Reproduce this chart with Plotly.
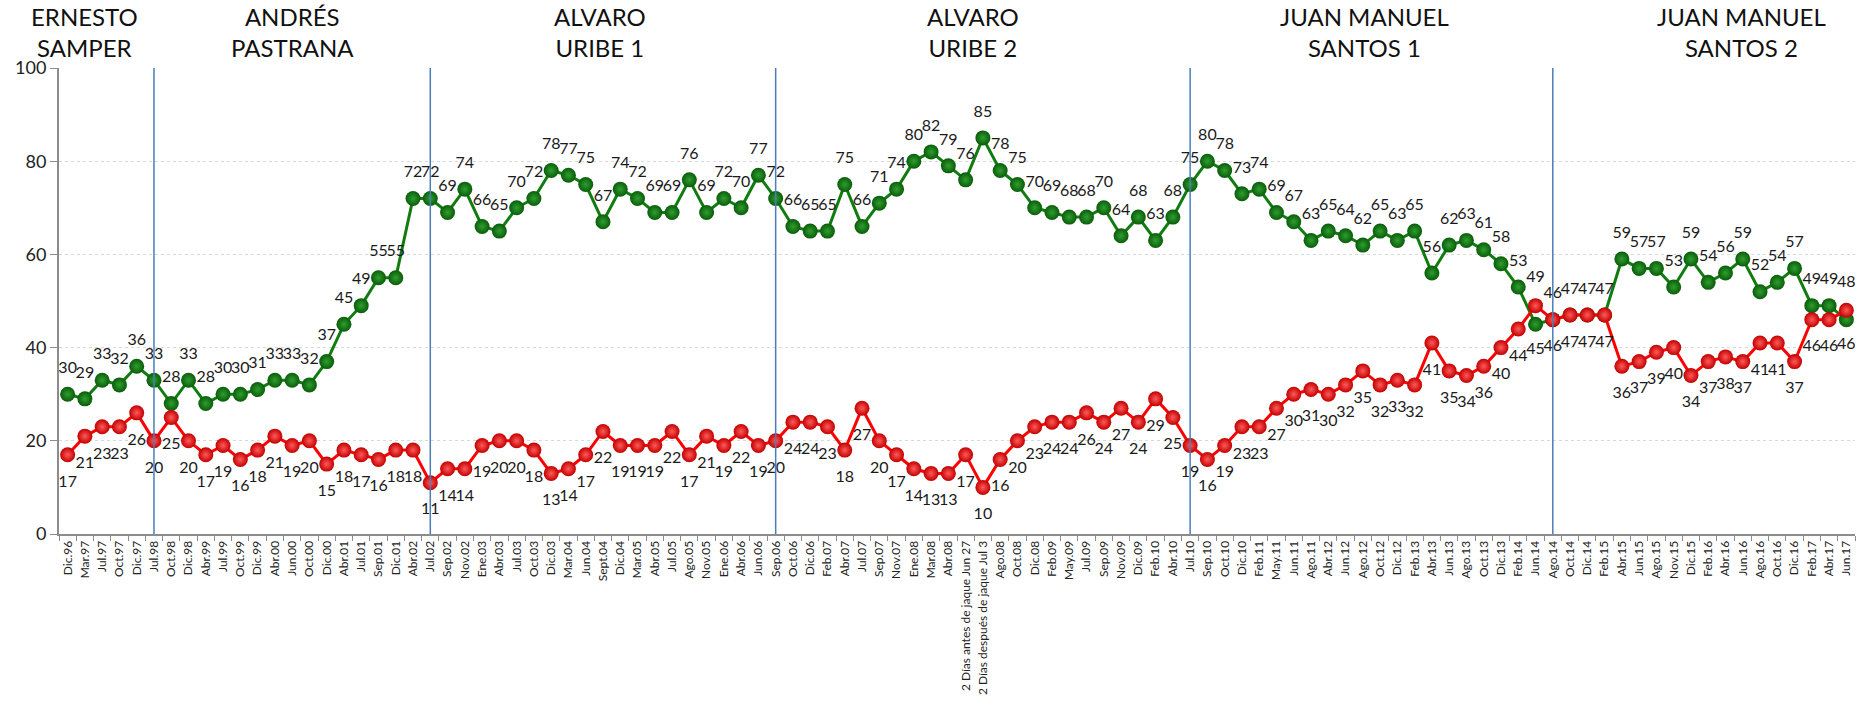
import plotly.graph_objects as go

# Encuestas de imagen presidencial, Colombia 1996-2017
periodos = [
    "Dic.96", "Mar.97", "Jul.97", "Oct.97", "Dic.97", "Jul.98", "Oct.98", "Dic.98",
    "Abr.99", "Jul.99", "Oct.99", "Dic.99", "Abr.00", "Jun.00", "Oct.00", "Dic.00",
    "Abr.01", "Jul.01", "Sep.01", "Dic.01", "Abr.02", "Jul.02", "Sep.02", "Nov.02",
    "Ene.03", "Abr.03", "Jul.03", "Oct.03", "Dic.03", "Mar.04", "Jun.04", "Sept.04",
    "Dic.04", "Mar.05", "Abr.05", "Jul.05", "Ago.05", "Nov.05", "Ene.06", "Abr.06",
    "Jun.06", "Sep.06", "Oct.06", "Dic.06", "Feb.07", "Abr.07", "Jul.07", "Sep.07",
    "Nov.07", "Ene.08", "Mar.08", "Abr.08",
    "2 Días antes de jaque Jun 27", "2 Días después de jaque Jul 3",
    "Ago.08", "Oct.08", "Dic.08", "Feb.09", "May.09", "Jul.09", "Sep.09", "Nov.09",
    "Dic.09", "Feb.10", "Abr.10", "Jul.10", "Sep.10", "Oct.10", "Dic.10", "Feb.11",
    "May.11", "Jun.11", "Ago.11", "Abr.12", "Jun.12", "Ago.12", "Oct.12", "Dic.12",
    "Feb.13", "Abr.13", "Jun.13", "Ago.13", "Oct.13", "Dic.13", "Feb.14", "Jun.14",
    "Ago.14", "Oct.14", "Dic.14", "Feb.15", "Abr.15", "Jun.15", "Ago.15", "Nov.15",
    "Dic.15", "Feb.16", "Abr.16", "Jun.16", "Ago.16", "Oct.16", "Dic.16", "Feb.17",
    "Abr.17", "Jun.17",
]

aprobacion = [
    30, 29, 33, 32, 36, 33, 28, 33,
    28, 30, 30, 31, 33, 33, 32, 37,
    45, 49, 55, 55, 72, 72, 69, 74,
    66, 65, 70, 72, 78, 77, 75, 67,
    74, 72, 69, 69, 76, 69, 72, 70,
    77, 72, 66, 65, 65, 75, 66, 71,
    74, 80, 82, 79,
    76, 85,
    78, 75, 70, 69, 68, 68, 70, 64,
    68, 63, 68, 75, 80, 78, 73, 74,
    69, 67, 63, 65, 64, 62, 65, 63,
    65, 56, 62, 63, 61, 58, 53, 45,
    46, 47, 47, 47, 59, 57, 57, 53,
    59, 54, 56, 59, 52, 54, 57, 49,
    49, 46,
]

desaprobacion = [
    17, 21, 23, 23, 26, 20, 25, 20,
    17, 19, 16, 18, 21, 19, 20, 15,
    18, 17, 16, 18, 18, 11, 14, 14,
    19, 20, 20, 18, 13, 14, 17, 22,
    19, 19, 19, 22, 17, 21, 19, 22,
    19, 20, 24, 24, 23, 18, 27, 20,
    17, 14, 13, 13,
    17, 10,
    16, 20, 23, 24, 24, 26, 24, 27,
    24, 29, 25, 19, 16, 19, 23, 23,
    27, 30, 31, 30, 32, 35, 32, 33,
    32, 41, 35, 34, 36, 40, 44, 49,
    46, 47, 47, 47, 36, 37, 39, 40,
    34, 37, 38, 37, 41, 41, 37, 46,
    46, 48,
]

gobiernos = [
    "ERNESTO<br>SAMPER", "ANDRÉS<br>PASTRANA", "ALVARO<br>URIBE 1",
    "ALVARO<br>URIBE 2", "JUAN MANUEL<br>SANTOS 1", "JUAN MANUEL<br>SANTOS 2",
]
centro_gobierno = [1.0, 13.0, 30.8, 52.4, 75.1, 96.9]
cambio_gobierno = ["Jul.98", "Jul.02", "Sep.06", "Jul.10", "Ago.14"]

FUENTE = "Lato, 'Open Sans', sans-serif"
VERDE = "#107c10"
ROJO = "#ff0000"

# La etiqueta va arriba en la serie mayor y abajo en la menor
pos_aprob = ["bottom center" if a < d else "top center"
             for a, d in zip(aprobacion, desaprobacion)]
pos_desap = ["top center" if d > a else "bottom center"
             for a, d in zip(aprobacion, desaprobacion)]

fig = go.Figure()

fig.add_trace(go.Scatter(
    x=periodos, y=aprobacion, mode="lines+markers", name="Aprobación",
    line=dict(color=VERDE, width=3),
    marker=dict(size=15, color="#0a5c0a",
                gradient=dict(type="radial", color="#2f9e2f")),
))
fig.add_trace(go.Scatter(
    x=periodos, y=desaprobacion, mode="lines+markers", name="Desaprobación",
    line=dict(color=ROJO, width=3),
    marker=dict(size=15, color="#c20000",
                gradient=dict(type="radial", color="#ff5a5a")),
))

# Etiquetas de valor (marcador invisible para separar el texto del punto)
fig.add_trace(go.Scatter(
    x=periodos, y=aprobacion, mode="markers+text",
    marker=dict(size=26, color="rgba(0,0,0,0)"),
    text=[str(v) for v in aprobacion], textposition=pos_aprob,
    textfont=dict(family=FUENTE, size=16, color="#1a1a1a"),
    hoverinfo="skip",
))
fig.add_trace(go.Scatter(
    x=periodos, y=desaprobacion, mode="markers+text",
    marker=dict(size=30, color="rgba(0,0,0,0)"),
    text=[str(v) for v in desaprobacion], textposition=pos_desap,
    textfont=dict(family=FUENTE, size=16, color="#1a1a1a"),
    hoverinfo="skip",
))

for p in cambio_gobierno:
    fig.add_shape(type="line", xref="x", yref="y", x0=p, x1=p, y0=0, y1=100,
                  line=dict(color="#4a7ebb", width=1.5), layer="above")

for nombre, cx in zip(gobiernos, centro_gobierno):
    fig.add_annotation(x=cx, xref="x", y=1.078, yref="paper", text=nombre,
                       showarrow=False, yanchor="middle", xanchor="center",
                       borderpad=0,
                       font=dict(family=FUENTE, size=24, color="#111111"))

fig.update_layout(
    width=1862, height=705,
    margin=dict(l=59, r=7, t=68, b=171, autoexpand=False),
    plot_bgcolor="white", paper_bgcolor="white",
    showlegend=False,
    font=dict(family=FUENTE, color="#222222"),
)
fig.update_xaxes(
    type="category", range=[-0.5, len(periodos) - 0.5],
    tickangle=-90, tickfont=dict(family=FUENTE, size=12, color="#222222"),
    ticks="outside", tickson="boundaries", ticklen=5, tickcolor="#8c8c8c",
    showline=True, linecolor="#8c8c8c", linewidth=2,
    showgrid=False, automargin=False,
)
fig.update_yaxes(
    range=[0, 100], tickvals=[0, 20, 40, 60, 80, 100],
    tickfont=dict(family=FUENTE, size=18, color="#222222"),
    ticks="outside", ticklen=7, tickcolor="#8c8c8c",
    showline=True, linecolor="#8c8c8c", linewidth=2,
    showgrid=True, gridcolor="#d9d9d9", griddash="dot", gridwidth=1,
    zeroline=False, automargin=False,
)

fig.write_html("out.html")
